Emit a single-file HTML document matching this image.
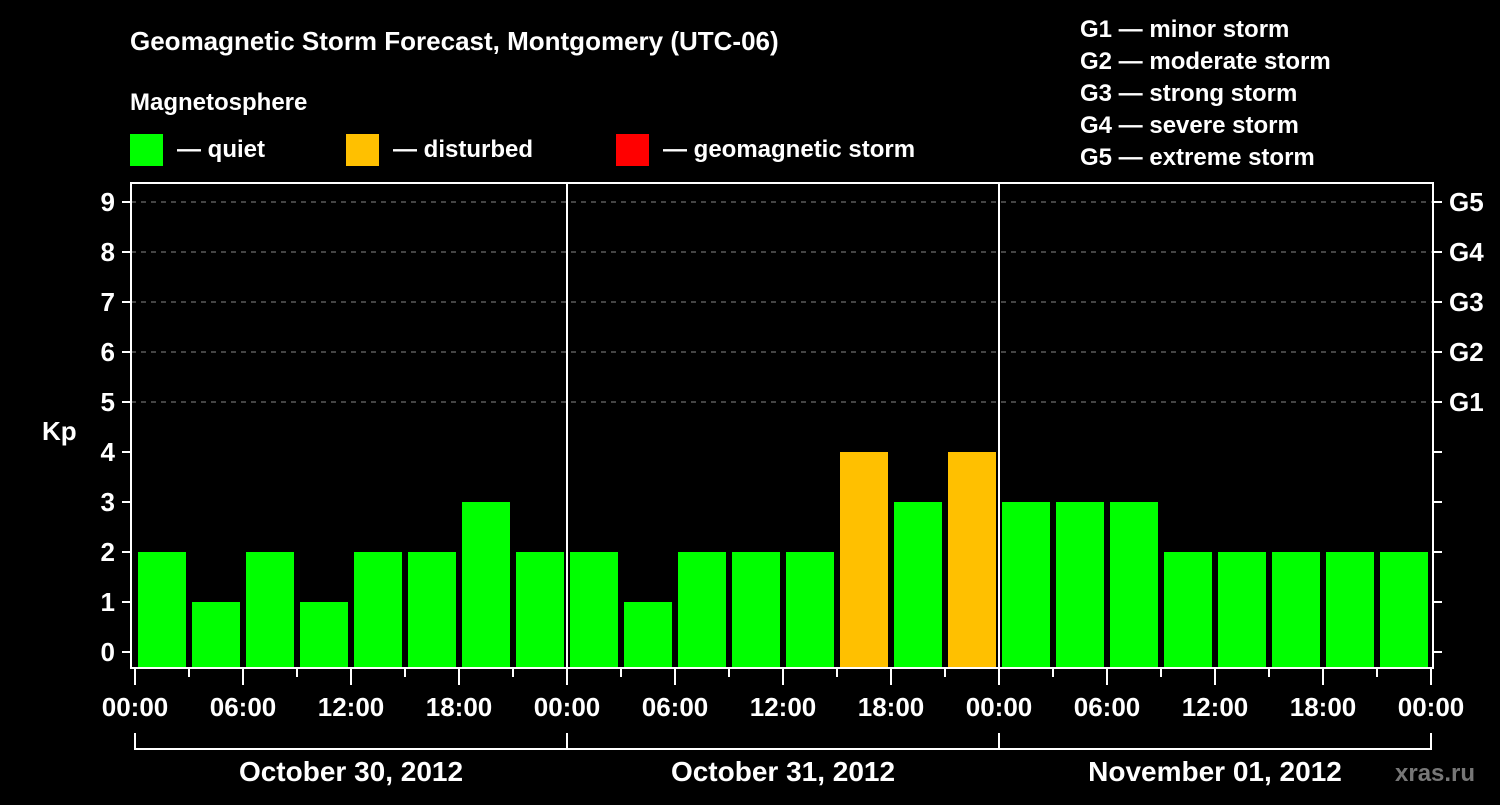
<!DOCTYPE html>
<html><head><meta charset="utf-8"><style>
body{margin:0;background:#000;}
svg text{font-family:"Liberation Sans",Arial,sans-serif;font-weight:bold;fill:#fff;}
</style></head><body>
<svg id="chart" width="1500" height="800" xmlns="http://www.w3.org/2000/svg">
<rect width="1500" height="800" fill="#000"/>
<text x="130" y="50" font-size="26">Geomagnetic Storm Forecast, Montgomery (UTC-06)</text>
<text x="130" y="110" font-size="24">Magnetosphere</text>
<g><rect x="130" y="134" width="33" height="32" fill="#00ff00"/><text x="177" y="157" font-size="24">— quiet</text></g>
<g><rect x="346" y="134" width="33" height="32" fill="#ffc000"/><text x="393" y="157" font-size="24">— disturbed</text></g>
<g><rect x="616" y="134" width="33" height="32" fill="#ff0000"/><text x="663" y="157" font-size="24">— geomagnetic storm</text></g>
<g font-size="24">
<text x="1080" y="37">G1 — minor storm</text>
<text x="1080" y="69">G2 — moderate storm</text>
<text x="1080" y="101">G3 — strong storm</text>
<text x="1080" y="133">G4 — severe storm</text>
<text x="1080" y="165">G5 — extreme storm</text>
</g>
<text x="42" y="440" font-size="26">Kp</text>
<text x="1395" y="781" font-size="24" fill="#777" style="fill:#777">xras.ru</text>
<g id="grid"></g><g id="bars"></g><g id="axes"></g>
</svg>
<script>
const values=[2,1,2,1,2,2,3,2, 2,1,2,2,2,4,3,4, 3,3,3,2,2,2,2,2];
const yTicks=[0,1,2,3,4,5,6,7,8,9];
const gLabels=["G1","G2","G3","G4","G5"];
const xTickLabels=["00:00","06:00","12:00","18:00","00:00","06:00","12:00","18:00","00:00","06:00","12:00","18:00","00:00"];
const dayLabels=["October 30, 2012","October 31, 2012","November 01, 2012"];
const NS="http://www.w3.org/2000/svg";
const X0=135,HOUR=18,Y0=652,UNIT=50,BASE=667,L=131,R=1433,T=183;
const x=h=>X0+h*HOUR, y=v=>Y0-v*UNIT;
function mk(tag,attrs,parent,txt){const e=document.createElementNS(NS,tag);for(const k in attrs)e.setAttribute(k,attrs[k]);if(txt!==undefined)e.textContent=txt;document.getElementById(parent).appendChild(e);return e;}
yTicks.forEach(v=>{
 if(v>=5){const g=mk('line',{x1:L,x2:R,y1:y(v),y2:y(v),stroke:'#888','stroke-dasharray':'5,5','stroke-width':1},'grid');
 
 }
});
values.forEach((v,i)=>{
 const c=v>=5?'#ff0000':(v>=4?'#ffc000':'#00ff00');
 const r=mk('rect',{x:x(i*3)+3,y:y(v),width:48,height:BASE-y(v),fill:c},'bars');
 
 
});
const f=mk('rect',{x:L,y:T,width:R-L,height:BASE+1-T,fill:'none',stroke:'#fff','stroke-width':2},'axes');


[1,2].forEach(d=>{const l=mk('line',{x1:x(d*24),x2:x(d*24),y1:T,y2:BASE,stroke:'#fff','stroke-width':2},'axes');
 
 });
yTicks.forEach(v=>{
 mk('line',{x1:122,x2:L,y1:y(v),y2:y(v),stroke:'#fff','stroke-width':2},'axes');
 mk('line',{x1:R,x2:R+9,y1:y(v),y2:y(v),stroke:'#fff','stroke-width':2},'axes');
 const t=mk('text',{x:115,y:y(v)+9,'font-size':26,'text-anchor':'end'},'axes',String(v));
 
 
});
gLabels.forEach((g,i)=>{const t=mk('text',{x:1449,y:y(5+i)+9,'font-size':26},'axes',g);
 
 });
for(let h=0;h<=72;h+=3){const major=h%6===0;
 mk('line',{x1:x(h),x2:x(h),y1:BASE+2,y2:major?685:677,stroke:'#fff','stroke-width':2},'axes');}
xTickLabels.forEach((s,i)=>{const t=mk('text',{x:x(i*6),y:716,'font-size':26,'text-anchor':'middle'},'axes',s);
 
 });
mk('path',{d:`M${x(0)} 733V749H${x(72)}V733M${x(24)} 733V749M${x(48)} 733V749`,stroke:'#fff','stroke-width':2,fill:'none'},'axes');
dayLabels.forEach((s,i)=>{const t=mk('text',{x:x(i*24+12),y:781,'font-size':28,'text-anchor':'middle'},'axes',s);
 
 });
</script>
</body></html>
